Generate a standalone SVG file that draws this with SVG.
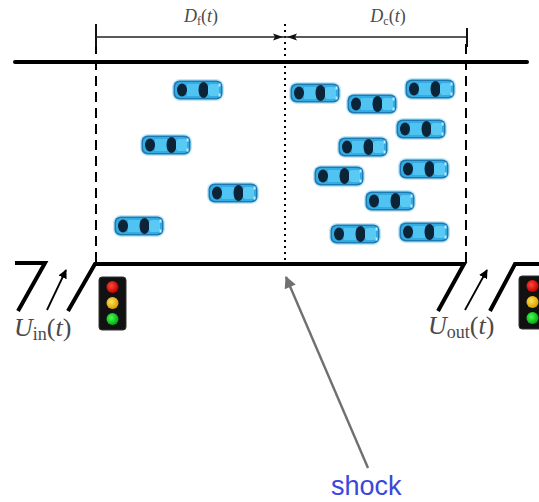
<svg xmlns="http://www.w3.org/2000/svg" width="539" height="502" viewBox="0 0 539 502">
  <style>
    .road { fill: none; stroke: #000; stroke-width: 4; stroke-linejoin: miter; }
    .bound { fill: none; stroke: #000; stroke-width: 2; stroke-dasharray: 10 6; }
    .shockline { fill: none; stroke: #000; stroke-width: 2; stroke-dasharray: 2 4; }
    .dim { fill: none; stroke: #222; stroke-width: 1.3; }
    .tick { fill: none; stroke: #111; stroke-width: 2; }
    .flow { fill: none; stroke: #000; stroke-width: 1.8; }
    .math { font-family: "Liberation Serif", "DejaVu Serif", serif; fill: #4a4a4a; }
    .it { font-style: italic; }
    .housing { fill: #111; stroke: #333; stroke-width: 1; }
  </style>
  <defs>
    <marker id="flowhead" viewBox="0 0 10 10" refX="9" refY="5" markerWidth="5" markerHeight="5" orient="auto">
      <path d="M0,0 L10,5 L0,10 z" fill="#000"/>
    </marker>
    <marker id="grayhead" viewBox="0 0 10 10" refX="9" refY="5" markerWidth="5.5" markerHeight="5" orient="auto">
      <path d="M0,0 L10,5 L0,10 z" fill="#707070"/>
    </marker>
    <radialGradient id="red" cx="0.4" cy="0.4" r="0.6">
      <stop offset="0" stop-color="#ff4a3a"/><stop offset="1" stop-color="#c00000"/>
    </radialGradient>
    <radialGradient id="amber" cx="0.4" cy="0.4" r="0.6">
      <stop offset="0" stop-color="#ffe25a"/><stop offset="1" stop-color="#d8a000"/>
    </radialGradient>
    <radialGradient id="green" cx="0.4" cy="0.4" r="0.6">
      <stop offset="0" stop-color="#4cff4c"/><stop offset="1" stop-color="#00a818"/>
    </radialGradient>
    <!-- top view of a car pointing right, centred on the origin -->
    <g id="car">
      <rect x="-26" y="-11" width="52" height="22" rx="8" fill="#7fd4f4" opacity="0.5"/>
      <rect x="-24.5" y="-9.5" width="49" height="19" rx="6" fill="#1f78b0"/>
      <rect x="-23" y="-8" width="46" height="16" rx="5" fill="#33abe3"/>
      <ellipse cx="-16" cy="0" rx="5" ry="6.5" fill="#0c2438"/>
      <rect x="-11" y="-6" width="12" height="12" fill="#4fc4f2"/>
      <ellipse cx="5.5" cy="0" rx="5" ry="8" fill="#0c2438"/>
      <rect x="10" y="-6" width="11" height="12" rx="3" fill="#58caf4"/>
      <rect x="20.5" y="-6.5" width="2" height="3" fill="#bfeeff"/>
      <rect x="20.5" y="3.5" width="2" height="3" fill="#bfeeff"/>
    </g>
    <g id="signal">
      <rect class="housing" x="0" y="0" width="27" height="53" rx="3"/>
      <circle cx="13.5" cy="10" r="6" fill="url(#red)"/>
      <circle cx="13.5" cy="26" r="6" fill="url(#amber)"/>
      <circle cx="13.5" cy="42" r="6" fill="url(#green)"/>
    </g>
  </defs>

  <rect width="539" height="502" fill="#fff"/>

  <!-- road edges and ramps -->
  <g id="road">
    <line class="road" x1="15" y1="62" x2="527" y2="62" stroke-width="4.5" stroke-linecap="round"/>
    <path class="road" d="M15,263 H45 L18,311"/>
    <path class="road" d="M68,311 L95,264 H464 L438,311"/>
    <path class="road" d="M490,311 L515,264 H539"/>
  </g>

  <!-- section boundaries and shock position -->
  <g id="boundaries">
    <line class="bound" x1="96" y1="44" x2="96" y2="264"/>
    <line class="bound" x1="466" y1="44" x2="466" y2="264"/>
    <line class="shockline" x1="285" y1="24" x2="285" y2="262"/>
  </g>

  <!-- length dimensions -->
  <g id="dimensions">
    <line class="tick" x1="96" y1="24" x2="96" y2="47"/>
    <line class="tick" x1="467" y1="28" x2="467" y2="47"/>
    <line class="dim" x1="96" y1="37" x2="466" y2="37"/>
    <path d="M283,37 L273,33.5 L275,37 L273,40.5 z" fill="#111"/>
    <path d="M287,37 L297,33.5 L295,37 L297,40.5 z" fill="#111"/>
    <text class="math" x="201" y="22" font-size="18" text-anchor="middle"><tspan class="it">D</tspan><tspan font-size="12" dy="3">f</tspan><tspan dy="-3">(</tspan><tspan class="it">t</tspan>)</text>
    <text class="math" x="388" y="22" font-size="18" text-anchor="middle"><tspan class="it">D</tspan><tspan font-size="12" dy="3">c</tspan><tspan dy="-3">(</tspan><tspan class="it">t</tspan>)</text>
  </g>

  <!-- vehicles -->
  <g id="vehicles">
    <use href="#car" x="198" y="90"/>
    <use href="#car" x="166" y="145"/>
    <use href="#car" x="233" y="193"/>
    <use href="#car" x="139" y="226"/>
    <use href="#car" x="315" y="93"/>
    <use href="#car" x="372" y="104"/>
    <use href="#car" x="430" y="89"/>
    <use href="#car" x="421" y="129"/>
    <use href="#car" x="363" y="147"/>
    <use href="#car" x="424" y="169"/>
    <use href="#car" x="339" y="176"/>
    <use href="#car" x="390" y="201"/>
    <use href="#car" x="355" y="234"/>
    <use href="#car" x="424" y="232"/>
  </g>

  <!-- inflow -->
  <g id="inflow">
    <line class="flow" x1="47" y1="310" x2="66" y2="270" marker-end="url(#flowhead)"/>
    <use href="#signal" x="99" y="277"/>
    <text class="math" x="14" y="336" font-size="26"><tspan class="it">U</tspan><tspan font-size="18" dy="4">in</tspan><tspan dy="-4">(</tspan><tspan class="it">t</tspan>)</text>
  </g>

  <!-- outflow -->
  <g id="outflow">
    <line class="flow" x1="465" y1="310" x2="487" y2="270" marker-end="url(#flowhead)"/>
    <use href="#signal" x="519" y="276"/>
    <text class="math" x="428" y="334" font-size="26"><tspan class="it">U</tspan><tspan font-size="18" dy="4">out</tspan><tspan dy="-4">(</tspan><tspan class="it">t</tspan>)</text>
  </g>

  <!-- shock annotation -->
  <g id="shock">
    <line x1="368" y1="468" x2="286" y2="277" stroke="#707070" stroke-width="2.4" marker-end="url(#grayhead)"/>
    <text x="331" y="495" font-family="'Liberation Sans', Arial, sans-serif" font-size="27" fill="#3a48dc">shock</text>
  </g>
</svg>
